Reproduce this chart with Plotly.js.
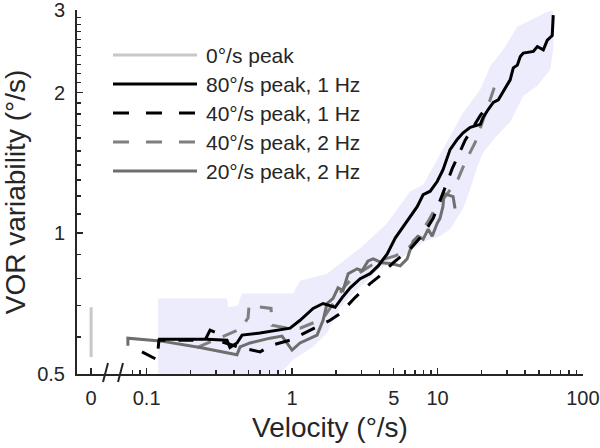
<!DOCTYPE html>
<html><head><meta charset="utf-8">
<script src="https://cdn.plot.ly/plotly-3.0.1.min.js"></script>
<style>html,body{margin:0;padding:0;background:#fff}</style>
</head><body><div id="chart" style="width:600px;height:448px"></div>
<script>
// position on the broken log axis where velocity 0 is drawn
const ZERO_POS = 0.0415;

// shaded variability band
const bandUpperX = [0.120, 0.357, 0.363, 0.425, 0.439, 0.453, 1.016, 1.135, 1.74, 2.14, 3.08, 4.5, 5.54, 6.49, 7.97, 9.95, 12.2, 15.0, 19.7, 23.1, 28.3, 35.4, 45.6, 56.9, 62.5];
const bandUpperY = [0.725, 0.725, 0.694, 0.700, 0.725, 0.743, 0.743, 0.791, 0.819, 0.86, 0.94, 1.05, 1.15, 1.23, 1.27, 1.44, 1.62, 1.81, 2.03, 2.28, 2.47, 2.77, 2.88, 2.98, 3.0];
const bandLowerX = [62.5, 59.7, 48.6, 38.9, 31.6, 25.8, 20.6, 18.8, 16.8, 15.0, 12.2, 10.4, 8.23, 6.49, 5.28, 4.03, 3.28, 2.63, 2.14, 1.915, 1.74, 1.395, 1.016, 0.827, 0.120];
const bandLowerY = [2.49, 2.24, 2.07, 1.97, 1.73, 1.62, 1.49, 1.39, 1.245, 1.13, 1.02, 0.985, 0.962, 0.916, 0.872, 0.843, 0.791, 0.743, 0.694, 0.651, 0.611, 0.571, 0.536, 0.5, 0.5];

// 0 deg/s peak
const zeroX = [ZERO_POS, ZERO_POS];
const zeroY = [0.543, 0.694];

// 80 deg/s peak, 1 Hz
const p80hz1X = [0.120, 0.26, 0.357, 0.374, 0.418, 0.453, 0.602, 0.827, 0.969, 1.135, 1.395, 1.634, 1.977, 2.21, 2.51, 2.94, 3.44, 3.91, 4.51, 5.12, 6.18, 7.25, 7.97, 8.91, 9.95, 10.9, 12.2, 13.7, 15.0, 16.8, 19.7, 20.6, 22.3, 24.2, 26.2, 27.9, 30.2, 31.6, 33.2, 35.4, 37.1, 38.9, 45.6, 48.6, 53.4, 56.9, 61.5, 62.5];
const p80hz1Y = [0.593, 0.593, 0.590, 0.569, 0.582, 0.605, 0.611, 0.620, 0.626, 0.651, 0.690, 0.707, 0.694, 0.728, 0.764, 0.799, 0.819, 0.851, 0.903, 0.976, 1.06, 1.14, 1.21, 1.23, 1.29, 1.366, 1.51, 1.59, 1.64, 1.685, 1.71, 1.77, 1.84, 1.905, 1.93, 2.00, 2.08, 2.13, 2.26, 2.29, 2.39, 2.43, 2.45, 2.51, 2.47, 2.59, 2.65, 2.93];

// 40 deg/s peak, 1 Hz
const p40hz1X = [0.0929, 0.118, 0.1215, 0.252, 0.273, 0.305, 0.330, 0.439, 0.602, 0.728, 0.969, 1.229, 1.56, 1.826, 2.14, 2.71, 3.44, 4.03, 4.95, 6.49, 7.97, 9.34, 10.4, 11.7, 12.6, 15.5, 19.7, 23.1];
const p40hz1Y = [0.557, 0.536, 0.590, 0.590, 0.620, 0.611, 0.585, 0.569, 0.557, 0.576, 0.590, 0.611, 0.635, 0.651, 0.673, 0.728, 0.780, 0.811, 0.864, 0.925, 0.995, 1.076, 1.169, 1.29, 1.373, 1.582, 1.787, 1.905];

// 40 deg/s peak, 2 Hz
const p40hz2X = [0.222, 0.357, 0.439, 0.498, 0.506, 0.556, 0.717, 0.728, 0.939, 1.135, 1.44, 1.69, 1.977, 2.32, 2.71, 3.18, 3.73, 4.36, 5.12, 5.99, 6.70, 7.60, 8.63, 9.80, 11.3, 13.9, 15.5, 18.2, 20.3, 22.3, 24.2, 25.8];
const p40hz2Y = [0.569, 0.605, 0.623, 0.658, 0.700, 0.697, 0.690, 0.635, 0.626, 0.626, 0.645, 0.667, 0.718, 0.772, 0.811, 0.839, 0.864, 0.881, 0.894, 0.916, 0.948, 1.0, 1.06, 1.14, 1.198, 1.31, 1.42, 1.566, 1.73, 1.876, 2.02, 2.17];

// 20 deg/s peak, 2 Hz
const p20hz2X = [0.0743, 0.0743, 0.1235, 0.233, 0.418, 0.439, 0.514, 0.706, 0.853, 0.939, 1.0, 1.135, 1.486, 1.634, 1.74, 1.915, 2.07, 2.24, 2.43, 2.80, 3.03, 3.33, 3.61, 4.16, 4.87, 5.54, 6.18, 6.80, 7.36, 7.97, 8.63, 9.19, 9.95, 10.4, 10.9, 11.1, 12.8, 13.2];
const p20hz2Y = [0.574, 0.596, 0.588, 0.569, 0.549, 0.571, 0.582, 0.596, 0.602, 0.576, 0.562, 0.582, 0.605, 0.651, 0.707, 0.725, 0.764, 0.754, 0.819, 0.839, 0.831, 0.872, 0.881, 0.864, 0.860, 0.851, 0.881, 0.962, 0.985, 0.971, 1.02, 0.985, 1.05, 1.076, 1.14, 1.215, 1.198, 1.13];

// tick labels
const xTickVals = [ZERO_POS, 0.1, 1, 5, 10, 100];
const xTickText = ['0', '0.1', '1', '5', '10', '100'];
const xMinorVals = [0.08, 0.09, 0.2, 0.3, 0.4, 0.5, 0.6, 0.7, 0.8, 0.9, 2, 3, 4, 6, 7, 8, 9, 20, 30, 40, 50, 60, 70, 80, 90];
const yTickVals = [0.5, 1, 2, 3];
const yTickText = ['0.5', '1', '2', '3'];
const yMinorVals = [0.6, 0.7, 0.8, 0.9, 1.1, 1.2, 1.3, 1.4, 1.5, 1.6, 1.7, 1.8, 1.9, 2.1, 2.2, 2.3, 2.4, 2.5, 2.6, 2.7, 2.8, 2.9];

const legendNames = ['0°/s peak', '80°/s peak, 1 Hz', '40°/s peak, 1 Hz', '40°/s peak, 2 Hz', '20°/s peak, 2 Hz'];
const legendColors = ['#c8c8c8', '#000000', '#000000', '#7f7f7f', '#6e6e6e'];
const legendDash = ['solid', 'solid', '16px,17px', '16px,17px', 'solid'];

const DASH = '15px,13px';
const W = 3;

const traces = [
  {x: bandUpperX.concat(bandLowerX), y: bandUpperY.concat(bandLowerY), type: 'scatter', mode: 'lines',
   fill: 'toself', fillcolor: 'rgb(236,236,252)', line: {width: 0, color: 'rgba(0,0,0,0)'}, hoverinfo: 'skip', showlegend: false},
  {x: zeroX, y: zeroY, mode: 'lines', name: legendNames[0], line: {color: legendColors[0], width: W}},
  {x: p40hz2X, y: p40hz2Y, mode: 'lines', name: legendNames[3], line: {color: legendColors[3], width: W, dash: DASH}},
  {x: p20hz2X, y: p20hz2Y, mode: 'lines', name: legendNames[4], line: {color: legendColors[4], width: W}},
  {x: p40hz1X, y: p40hz1Y, mode: 'lines', name: legendNames[2], line: {color: legendColors[2], width: W, dash: DASH}},
  {x: p80hz1X, y: p80hz1Y, mode: 'lines', name: legendNames[1], line: {color: legendColors[1], width: W}}
];

// manual legend (long sample lines like the reference)
const L0 = 77, PW = 506, T0 = 10, PH = 364;
const px2x = p => (p - L0) / PW;
const px2y = p => (T0 + PH - p) / PH;
const rowsY = [55, 84, 113, 142, 171];
const shapes = [];
const annotations = [];
legendNames.forEach((n, i) => {
  shapes.push({type: 'line', xref: 'paper', yref: 'paper', x0: px2x(113), x1: px2x(197), y0: px2y(rowsY[i]), y1: px2y(rowsY[i]),
    line: {color: legendColors[i], width: 3, dash: legendDash[i]}});
  annotations.push({xref: 'paper', yref: 'paper', x: px2x(204), y: px2y(rowsY[i]), xanchor: 'left', yanchor: 'middle',
    text: n, showarrow: false, font: {size: 21, color: '#262626'}});
});
// axis break marks
[[103, 108], [118, 123]].forEach(([a, b]) => {
  shapes.push({type: 'line', xref: 'paper', yref: 'paper', x0: px2x(a), x1: px2x(b), y0: px2y(382), y1: px2y(363),
    line: {color: '#262626', width: 2}});
});

const layout = {
  width: 600, height: 448,
  margin: {l: 77, r: 17, t: 10, b: 74},
  paper_bgcolor: '#fff', plot_bgcolor: '#fff',
  font: {family: 'Liberation Sans, Arial, sans-serif', color: '#262626'},
  showlegend: false,
  xaxis: {
    type: 'log', range: [Math.log10(0.0332), 2.0005],
    tickmode: 'array', tickvals: xTickVals, ticktext: xTickText,
    ticks: 'inside', ticklen: 6, tickwidth: 1.5, tickcolor: '#262626',
    minor: {tickvals: xMinorVals, ticks: 'inside', ticklen: 4, tickwidth: 1.5, tickcolor: '#262626', showgrid: false},
    showline: true, linecolor: '#262626', linewidth: 2, showgrid: false, zeroline: false,
    tickfont: {size: 20, color: '#262626'}, ticklabelstandoff: 5, ticklabeloverflow: 'allow',
    title: {text: 'Velocity (°/s)', font: {size: 28, color: '#262626'}, standoff: 9}
  },
  yaxis: {
    type: 'log', range: [Math.log10(0.5) - 0.0005, Math.log10(3) + 0.0008],
    tickmode: 'array', tickvals: yTickVals, ticktext: yTickText,
    ticks: 'inside', ticklen: 6, tickwidth: 1.5, tickcolor: '#262626',
    minor: {tickvals: yMinorVals, ticks: 'inside', ticklen: 4, tickwidth: 1.5, tickcolor: '#262626', showgrid: false},
    showline: true, linecolor: '#262626', linewidth: 2, showgrid: false, zeroline: false,
    tickfont: {size: 20, color: '#262626'}, ticklabelstandoff: 6, ticklabeloverflow: 'allow',
    title: {text: 'VOR variability (°/s)', font: {size: 28, color: '#262626'}, standoff: 7}
  },
  shapes: shapes,
  annotations: annotations
};

Plotly.newPlot('chart', traces, layout, {displayModeBar: false, staticPlot: true});
</script></body></html>
